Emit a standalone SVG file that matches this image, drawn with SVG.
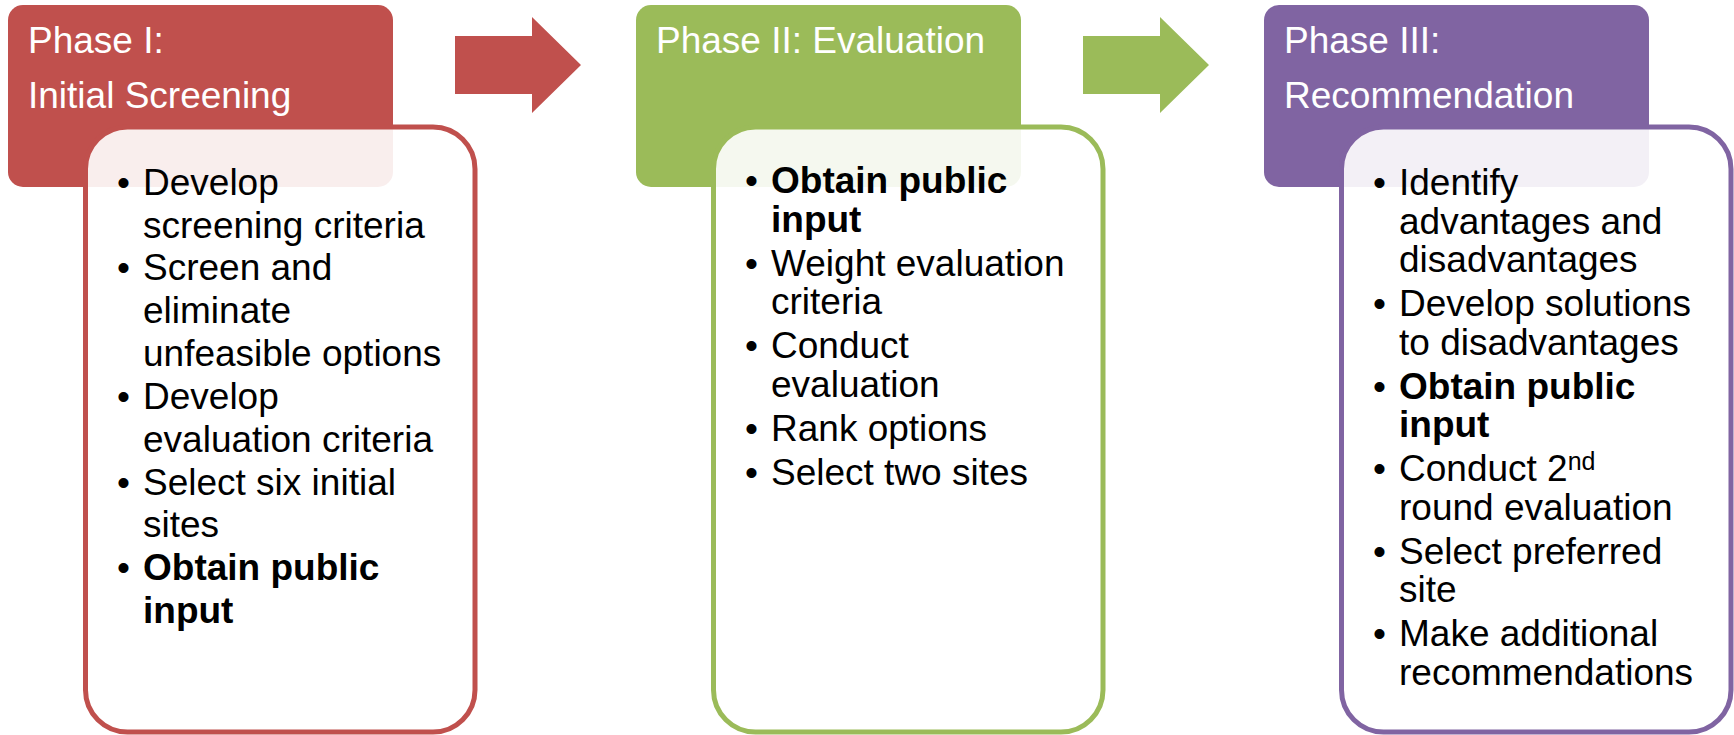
<svg xmlns="http://www.w3.org/2000/svg" width="1734" height="735" viewBox="0 0 1734 735">
<style>
.hd{stroke:none}
.box{fill:#ffffff;fill-opacity:0.9;stroke-width:5}
.ht{font-family:"Liberation Sans",Arial,sans-serif;font-size:37px;fill:#ffffff}
.bt{font-family:"Liberation Sans",Arial,sans-serif;font-size:37px;fill:#000000}
.b{font-weight:bold}
</style>
<rect width="1734" height="735" fill="#ffffff"/>
<g id="connectors">
<polygon points="455,36 532,36 532,17 581,65 532,113 532,94 455,94" fill="#C0504D"/>
<polygon points="1083,36 1160,36 1160,17 1209,65 1160,113 1160,94 1083,94" fill="#9BBB59"/>
</g>
<g id="phase1">
<rect class="hd" x="8" y="5" width="385" height="182" rx="15" fill="#C0504D"/>
<text class="ht" x="28" y="53">Phase I:</text>
<text class="ht" x="28" y="108">Initial Screening</text>
<rect class="box" x="85.5" y="127" width="389.5" height="605" rx="42" stroke="#C0504D"/>
<g class="bt">
<text x="117" y="195">•</text><text x="143" y="195">Develop</text>
<text x="143" y="238">screening criteria</text>
<text x="117" y="280">•</text><text x="143" y="280">Screen and</text>
<text x="143" y="323">eliminate</text>
<text x="143" y="366">unfeasible options</text>
<text x="117" y="409">•</text><text x="143" y="409">Develop</text>
<text x="143" y="452">evaluation criteria</text>
<text x="117" y="495">•</text><text x="143" y="495">Select six initial</text>
<text x="143" y="537">sites</text>
<text x="117" y="580">•</text><text class="b" x="143" y="580">Obtain public</text>
<text class="b" x="143" y="623">input</text>
</g>
</g>
<g id="phase2">
<rect class="hd" x="636" y="5" width="385" height="182" rx="15" fill="#9BBB59"/>
<text class="ht" x="656" y="53">Phase II: Evaluation</text>
<rect class="box" x="713.5" y="127" width="389.5" height="605" rx="42" stroke="#9BBB59"/>
<g class="bt">
<text x="745" y="193">•</text><text class="b" x="771" y="193">Obtain public</text>
<text class="b" x="771" y="231.5">input</text>
<text x="745" y="275.5">•</text><text x="771" y="275.5">Weight evaluation</text>
<text x="771" y="314">criteria</text>
<text x="745" y="358">•</text><text x="771" y="358">Conduct</text>
<text x="771" y="396.5">evaluation</text>
<text x="745" y="440.5">•</text><text x="771" y="440.5">Rank options</text>
<text x="745" y="484.5">•</text><text x="771" y="484.5">Select two sites</text>
</g>
</g>
<g id="phase3">
<rect class="hd" x="1264" y="5" width="385" height="182" rx="15" fill="#8064A2"/>
<text class="ht" x="1284" y="53">Phase III:</text>
<text class="ht" x="1284" y="108">Recommendation</text>
<rect class="box" x="1341.5" y="127" width="389.5" height="605" rx="42" stroke="#8064A2"/>
<g class="bt">
<text x="1373" y="195">•</text><text x="1399" y="195">Identify</text>
<text x="1399" y="233.5">advantages and</text>
<text x="1399" y="272">disadvantages</text>
<text x="1373" y="316">•</text><text x="1399" y="316">Develop solutions</text>
<text x="1399" y="354.5">to disadvantages</text>
<text x="1373" y="398.5">•</text><text class="b" x="1399" y="398.5">Obtain public</text>
<text class="b" x="1399" y="437">input</text>
<text x="1373" y="481">•</text><text x="1399" y="481">Conduct 2<tspan font-size="25" dy="-11">nd</tspan></text>
<text x="1399" y="519.5">round evaluation</text>
<text x="1373" y="563.5">•</text><text x="1399" y="563.5">Select preferred</text>
<text x="1399" y="602">site</text>
<text x="1373" y="646">•</text><text x="1399" y="646">Make additional</text>
<text x="1399" y="684.5">recommendations</text>
</g>
</g>
</svg>
